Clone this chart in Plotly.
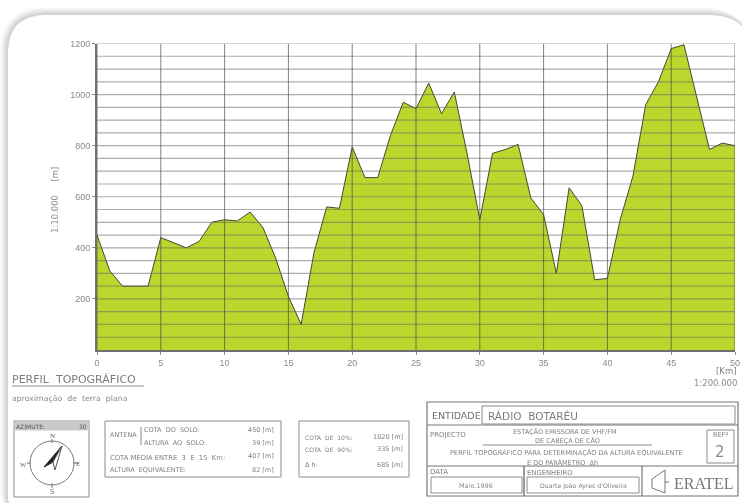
import plotly.graph_objects as go

W, H = 742, 503

km = list(range(0, 51))
cota = [450, 310, 250, 250, 250, 440, 420, 400, 425, 500,
        510, 505, 540, 480, 360, 210, 100, 380, 560, 555,
        795, 675, 675, 840, 970, 945, 1045, 925, 1010, 770,
        510, 770, 785, 805, 595, 530, 300, 635, 565, 275,
        280, 510, 680, 960, 1050, 1180, 1195, 990, 785, 810, 800]
x_ticks = [0, 5, 10, 15, 20, 25, 30, 35, 40, 45, 50]
y_ticks = [200, 400, 600, 800, 1000, 1200]
y_grid = list(range(50, 1201, 50))


def px(x):
    return x / W


def py(y):
    return 1 - y / H


shapes = []
annotations = []


def rect(x0, y0, x1, y1, color="#8c8c8c", width=1, fill=None, layer="above"):
    shapes.append(dict(type="rect", xref="paper", yref="paper", x0=px(x0), x1=px(x1),
                       y0=py(y0), y1=py(y1), line=dict(color=color, width=width),
                       fillcolor=fill or "rgba(0,0,0,0)", layer=layer))


def line(x0, y0, x1, y1, color="#8c8c8c", width=1):
    shapes.append(dict(type="line", xref="paper", yref="paper", x0=px(x0), x1=px(x1),
                       y0=py(y0), y1=py(y1), line=dict(color=color, width=width), layer="above"))


def path(points, fill, color=None, close=True, layer="above", width=1):
    d = "M " + " L ".join(f"{px(a):.5f},{py(b):.5f}" for a, b in points) + (" Z" if close else "")
    shapes.append(dict(type="path", xref="paper", yref="paper", path=d, fillcolor=fill,
                       line=dict(color=color or fill, width=width), layer=layer))


def text(x, y, s, size=8, color="#808080", anchor="left", family="DejaVu Sans", angle=0):
    annotations.append(dict(x=px(x), y=py(y), xref="paper", yref="paper", text=s, showarrow=False,
                            xanchor=anchor, yanchor="middle", textangle=angle, borderpad=0, borderwidth=0,
                            font=dict(size=size, color=color, family=family)))


def rounded(x0, y0, x1, y1, tl, tr, bl, fill):
    d = (f"M {px(x0)},{py(y0 + tl)} Q {px(x0)},{py(y0)} {px(x0 + tl)},{py(y0)} "
         f"L {px(x1 - tr)},{py(y0)} Q {px(x1)},{py(y0)} {px(x1)},{py(y0 + tr)} "
         f"L {px(x1)},{py(y1)} L {px(x0 + bl)},{py(y1)} Q {px(x0)},{py(y1)} {px(x0)},{py(y1 - bl)} Z")
    shapes.append(dict(type="path", xref="paper", yref="paper", path=d, fillcolor=fill,
                       line=dict(width=0), layer="below"))


# Rounded panel with its soft shadow
for i, c in enumerate(["#fbfbfb", "#f6f6f6", "#f0f0f0", "#e9e9e9", "#e2e2e2", "#dbdbdb", "#d5d5d5", "#d0d0d0"]):
    o = 8 - i
    rounded(8 - o, 15 - o, 742 + 12, 503 + 10, 38 + o, 46 + o, 16 + o, c)
rounded(8, 15, 742 + 12, 503 + 10, 38, 46, 16, "#ffffff")

# Grid drawn over the filled profile, from the axis values
for v in y_grid:
    shapes.append(dict(type="line", xref="x", yref="y", x0=0, x1=50, y0=v, y1=v, layer="above",
                       line=dict(color="rgba(105,105,105,0.55)", width=1.2)))
for v in x_ticks:
    shapes.append(dict(type="line", xref="x", yref="y", x0=v, x1=v, y0=0, y1=1200, layer="above",
                       line=dict(color="rgba(70,70,70,0.68)", width=1)))

# Captions near the chart
text(12, 379.5, "PERFIL  TOPOGRÁFICO", 11, "#7d7d7d")
line(12, 386, 144, 386, "#8f8f8f")
text(12, 398, "aproximação  de  terra  plana", 7.8, "#8a8a8a")
text(737, 371, "[Km]", 8.5, "#808080", "right")
text(737, 383, "1:200.000", 8.5, "#8a8a8a", "right")
text(55, 200, "1:10.000     [m]", 8.5, "#8a8a8a", "center", angle=-90)

# Compass box
rect(14, 421, 89, 497)
path([(15, 422), (88, 422), (88, 430), (15, 430)], "#c9c9c9")
text(16, 426, "AZIMUTE:", 6, "#555555")
text(87, 426, "30", 6, "#555555", "right")
shapes.append(dict(type="circle", xref="paper", yref="paper", x0=px(30), x1=px(74), y0=py(441), y1=py(485),
                   line=dict(color="#777777", width=1), layer="above"))
line(52, 439, 52, 443, "#777777")
line(52, 483, 52, 488, "#777777")
line(27, 463, 31, 463, "#777777")
line(73, 463, 78, 463, "#777777")
path([(62, 446), (44, 467), (53, 462)], "#222222")
path([(62, 446), (55, 470), (53, 462)], "#ffffff", "#555555")
text(52, 436, "N", 7, "#555555", "center", "Liberation Serif")
text(52, 492, "S", 7, "#777777", "center")
text(23, 464, "W", 6.5, "#555555", "center", "Liberation Serif")
text(78, 464, "E", 7, "#555555", "center", "Liberation Serif")

# Antenna box
rect(105, 421, 281, 477)
text(110, 435, "ANTENA", 6.5)
line(141, 427, 141, 445, "#888888")
text(144, 430, "COTA  DO  SOLO:", 6.5)
text(144, 443, "ALTURA  AO  SOLO:", 6.5)
text(110, 457, "COTA MÉDIA ENTRE  3  E  15  Km:", 6.8)
text(110, 470, "ALTURA  EQUIVALENTE:", 6.5)
for yy, t in zip([430, 443, 456, 470], ["450 [m]", "39 [m]", "407 [m]", "82 [m]"]):
    text(274, yy, t, 6.5, "#808080", "right")

# Percentile box
rect(299, 421, 409, 477)
text(305, 437, "COTA  DE  10%:", 6)
text(305, 449, "COTA  DE  90%:", 6)
text(305, 465, "Δ h:", 6.5)
for yy, t in zip([437, 449, 465], ["1020 [m]", "335 [m]", "685 [m]"]):
    text(403, yy, t, 6.5, "#808080", "right")

# Title block
rect(427, 402, 738, 496, "#777777", 1.2)
line(427, 425, 738, 425, "#777777", 1.2)
line(427, 466, 738, 466, "#777777", 1.2)
rect(482, 406, 735, 424)
text(432, 415, "ENTIDADE", 9.5, "#707070")
text(488, 416, "RÁDIO  BOTARÉU", 10.5, "#7d7d7d")
text(430, 435, "PROJECTO", 7)
text(565, 432, "ESTAÇÃO EMISSORA DE VHF/FM", 6.5, "#808080", "center")
text(567, 441, "DE CABEÇA DE CÃO", 6.5, "#808080", "center")
line(483, 445, 652, 445)
text(566, 452, "PERFIL TOPOGRÁFICO PARA DETERMINAÇÃO DA ALTURA EQUIVALENTE", 6.6, "#808080", "center")
text(562, 462, "E DO PARÂMETRO  Δh", 6.5, "#808080", "center")
rect(707, 430, 734, 463)
text(720, 435, "REFª", 6.5, "#808080", "center")
text(720, 452, "2", 15, "#8a8a8a", "center")
line(524, 466, 524, 496, "#777777", 1.5)
line(642, 466, 642, 496, "#777777", 1.2)
text(430, 472, "DATA", 7)
rect(431, 477, 522, 493)
text(476, 486, "Maio.1996", 6.5, "#8a8a8a", "center")
text(527, 473, "ENGENHEIRO", 6.8)
rect(527, 477, 639, 493)
text(583, 486, "Duarte João Ayres d'Oliveira", 6.2, "#808080", "center")
path([(652, 479), (665, 470), (665, 493), (652, 488)], "rgba(0,0,0,0)", "#777777")
line(665, 482, 669, 482, "#777777")
text(674, 483, "ERATEL", 16, "#777777", "left", "Liberation Serif")

fig = go.Figure(go.Scatter(
    x=km, y=cota, mode="lines", fill="tozeroy", fillcolor="#bcd62e",
    line=dict(color="#3f4a2c", width=1), hoverinfo="skip", showlegend=False))

fig.update_layout(
    width=W, height=H, autosize=False,
    margin=dict(l=0, r=0, t=0, b=0, pad=0, autoexpand=False),
    paper_bgcolor="#ffffff", plot_bgcolor="rgba(0,0,0,0)",
    shapes=shapes, annotations=annotations,
    font=dict(family="Liberation Sans", color="#8a8a8a", size=9),
    xaxis=dict(domain=[px(97), px(735)], range=[0, 50], tickvals=x_ticks, ticks="outside", ticklen=3,
               tickcolor="#888888", showgrid=False, zeroline=False, showline=True, linecolor="#6f6f6f",
               linewidth=1.5, tickfont=dict(size=9, color="#8a8a8a")),
    yaxis=dict(domain=[py(350), py(43.5)], range=[0, 1200], tickvals=y_ticks, ticks="outside", ticklen=3,
               tickcolor="#888888", showgrid=False, zeroline=False, showline=True, linecolor="#6f6f6f",
               linewidth=2, tickfont=dict(size=9, color="#8a8a8a")),
)

fig.write_html("out.html", config=dict(displayModeBar=False), post_script=(
    "document.body.style.margin='0';document.body.style.overflow='hidden';"
    "document.querySelectorAll('.main-svg').forEach(function(s){s.style.filter='blur(0.45px)';});"))
